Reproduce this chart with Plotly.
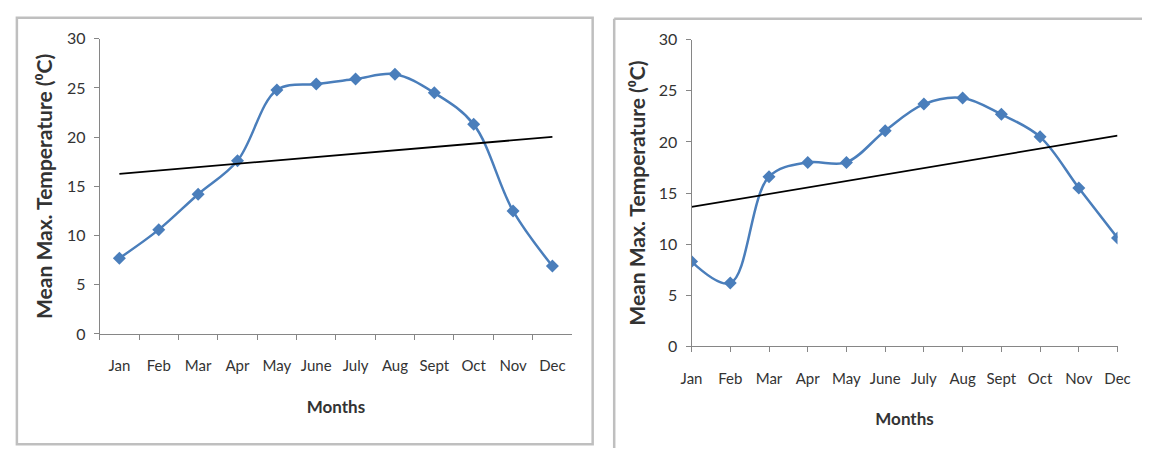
import numpy as np
import plotly.graph_objects as go

# Mean maximum temperature by month for two stations
months_left = ["Jan", "Feb", "Mar", "Apr", "May", "June", "July", "Aug", "Sept", "Oct", "Nov", "Dec"]
temp_left = [7.7, 10.6, 14.2, 17.6, 24.8, 25.4, 25.9, 26.4, 24.5, 21.3, 12.5, 6.9]

months_right = ["Jan", "Feb", "Mar", "Apr", "May", "June", "July", "Aug", "Sept", "Oct", "Nov", "Dec"]
temp_right = [8.3, 6.2, 16.6, 18.0, 18.0, 21.1, 23.7, 24.3, 22.7, 20.5, 15.5, 10.6]

y_ticks = [0, 5, 10, 15, 20, 25, 30]

W, H = 1155, 457
BLUE = "#4A7EBB"
AXIS = "#868686"
TXT = "#333333"
BORDER = "#BFBFBF"
FONT = "Lato, Liberation Sans, sans-serif"
X_TITLE = "Months"
Y_TITLE = "Mean Max. Temperature (\u2070C)"


def trend(vals):
    # least-squares linear trendline over month index
    idx = np.arange(len(vals))
    slope, icpt = np.polyfit(idx, vals, 1)
    return list(slope * idx + icpt)


def px(x):
    return x / W


def py(y):
    return 1 - y / H


fig = go.Figure()

fig.add_trace(go.Scatter(
    x=months_left, y=temp_left, mode="lines+markers",
    line=dict(color=BLUE, width=2.5, shape="spline", smoothing=1.0),
    marker=dict(symbol="diamond", size=10, color=BLUE),
    xaxis="x", yaxis="y", showlegend=False))
fig.add_trace(go.Scatter(
    x=months_left, y=trend(temp_left), mode="lines",
    line=dict(color="#000000", width=1.8),
    xaxis="x", yaxis="y", showlegend=False))

fig.add_trace(go.Scatter(
    x=months_right, y=temp_right, mode="lines+markers",
    line=dict(color=BLUE, width=2.5, shape="spline", smoothing=1.0),
    marker=dict(symbol="diamond", size=10, color=BLUE),
    xaxis="x2", yaxis="y2", showlegend=False))
fig.add_trace(go.Scatter(
    x=months_right, y=trend(temp_right), mode="lines",
    line=dict(color="#000000", width=1.8),
    xaxis="x2", yaxis="y2", showlegend=False))

xcommon = dict(type="category", showline=True, linecolor=AXIS, linewidth=1,
               ticks="outside", ticklen=5, tickcolor=AXIS, showgrid=False,
               zeroline=False, tickangle=0,
               tickfont=dict(family=FONT, size=15, color=TXT))
ycommon = dict(range=[0, 30], tickvals=y_ticks, showline=True, linecolor=AXIS,
               linewidth=1, ticks="outside", ticklen=5, tickcolor=AXIS,
               showgrid=False, zeroline=False, ticklabelstandoff=5,
               tickfont=dict(family=FONT, size=16, color=TXT))
xtitle_font = dict(family=FONT, size=17, color=TXT, weight="bold")
ytitle_font = dict(family=FONT, size=21, color=TXT, weight="bold")

fig.update_layout(
    width=W, height=H,
    margin=dict(l=0, r=0, t=0, b=0),
    paper_bgcolor="white", plot_bgcolor="white",
    xaxis=dict(xcommon, domain=[px(90.6), px(573)], range=[-0.5, 11.5],
               tickson="boundaries", anchor="y", ticklabelstandoff=18,
               title=dict(text=X_TITLE, standoff=28, font=xtitle_font)),
    yaxis=dict(ycommon, domain=[py(338), py(30)], anchor="x",
               title=dict(text=Y_TITLE, standoff=8, font=ytitle_font)),
    xaxis2=dict(xcommon, domain=[px(695), px(1130)], range=[0, 11], anchor="y2",
                ticklabelstandoff=14,
                title=dict(text=X_TITLE, standoff=26, font=xtitle_font)),
    yaxis2=dict(ycommon, domain=[py(351), py(31)], anchor="x2",
                title=dict(text=Y_TITLE, standoff=7, font=ytitle_font)),
    shapes=[
        # frame of the left chart
        dict(type="rect", xref="paper", yref="paper",
             x0=px(6), x1=px(594), y0=py(453), y1=py(8),
             line=dict(color=BORDER, width=2.5)),
        # frame of the right chart (only its left and top edges are in view)
        dict(type="line", xref="paper", yref="paper",
             x0=px(616), x1=px(616), y0=0, y1=py(9),
             line=dict(color=BORDER, width=2.5)),
        dict(type="line", xref="paper", yref="paper",
             x0=px(616), x1=1, y0=py(9), y1=py(9),
             line=dict(color=BORDER, width=2.5)),
    ],
)

fig.write_html("out.html")
